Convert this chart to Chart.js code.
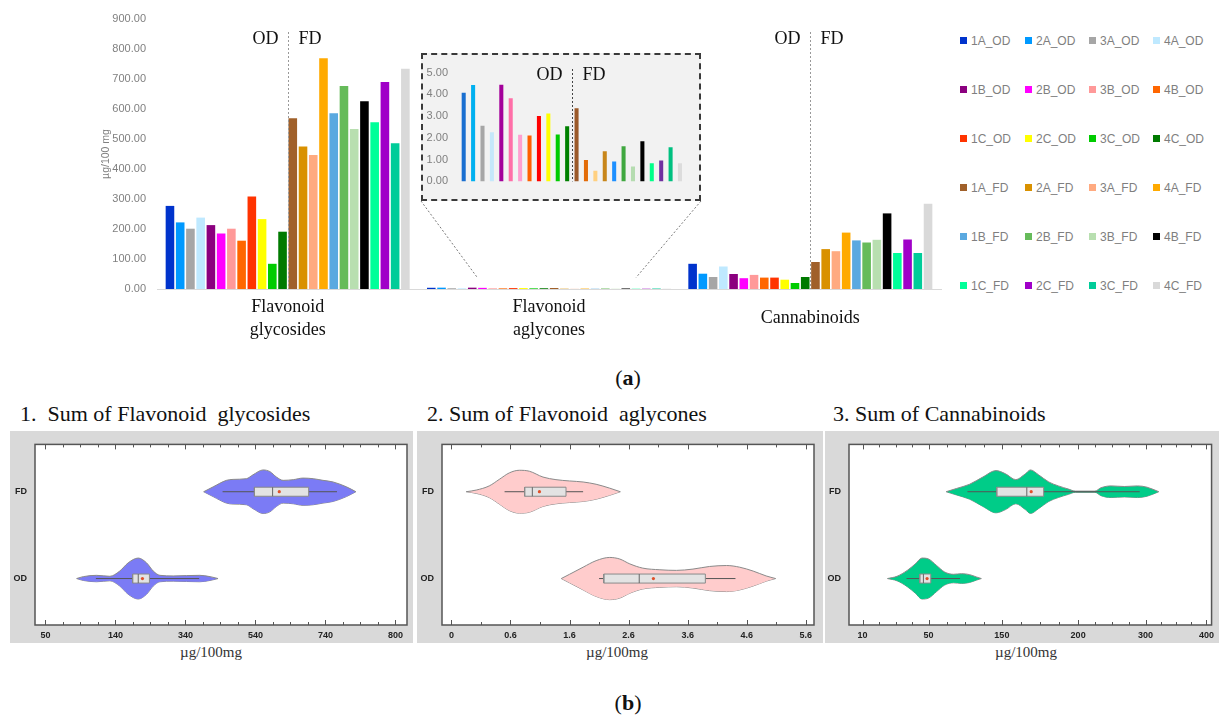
<!DOCTYPE html>
<html lang="en">
<head>
<meta charset="UTF-8" />
<title>Flavonoids and cannabinoids, OD vs FD</title>
<style>
  body { margin: 0; width: 1219px; height: 715px; position: relative; overflow: hidden; background: #fff; font-family: "Liberation Serif", serif; }
  .abs { position: absolute; }
  #mainChart { left: 100px; top: 0; }
  #insetBox { left: 421px; top: 53px; width: 276px; height: 144px; border: 2px dashed #3a3a3a; background: #f2f2f2; }
  #legend { left: 957px; top: 16px; display: grid; grid-template-columns: 65px 64px 64px 64px; grid-auto-rows: 49px; }
  #legend div { display: flex; align-items: center; font: 12px "Liberation Sans", sans-serif; color: #7f7f7f; }
  #legend span { display: inline-block; width: 7px; height: 7px; margin: 0 4px 0 3px; }
  .tag { width: 60px; text-align: center; font-size: 22px; line-height: 26px; color: #111; }
  .ptitle { font-size: 22px; line-height: 22px; white-space: pre; color: #111; }
  .panel { background: #d9d9d9; }
  .unit { width: 120px; text-align: center; font-size: 15px; line-height: 18px; color: #333; }
</style>
</head>
<body>
  <canvas id="mainChart" class="abs" width="850" height="345"></canvas>
  <div id="insetBox" class="abs"><canvas id="insetChart" width="276" height="144"></canvas></div>
  <div id="legend" class="abs"></div>
  <div class="abs tag" style="left:598px; top:365px;">(<b>a</b>)</div>

  <div class="abs ptitle" style="left:20px; top:403px;">1.  Sum of Flavonoid  glycosides</div>
  <div class="abs ptitle" style="left:427px; top:403px;">2. Sum of Flavonoid  aglycones</div>
  <div class="abs ptitle" style="left:833px; top:403px;">3. Sum of Cannabinoids</div>
  <canvas id="violin1" class="abs panel" style="left:10px; top:431px;" width="403" height="212"></canvas>
  <canvas id="violin2" class="abs panel" style="left:417px; top:431px;" width="406" height="212"></canvas>
  <canvas id="violin3" class="abs panel" style="left:825px; top:431px;" width="394" height="212"></canvas>
  <div class="abs unit" style="left:151px; top:643px;">µg/100mg</div>
  <div class="abs unit" style="left:557px; top:643px;">µg/100mg</div>
  <div class="abs unit" style="left:966px; top:643px;">µg/100mg</div>
  <div class="abs tag" style="left:598px; top:690px;">(<b>b</b>)</div>

  <script src="https://cdn.jsdelivr.net/npm/chart.js@4.4.0/dist/chart.umd.min.js"></script>
  <script>
    // ---- bar chart data (µg/100 mg) ----
    const categories = [["Flavonoid", "glycosides"], ["Flavonoid", "aglycones"], "Cannabinoids"];
    const samples = ["1A_OD", "2A_OD", "3A_OD", "4A_OD", "1B_OD", "2B_OD", "3B_OD", "4B_OD",
                     "1C_OD", "2C_OD", "3C_OD", "4C_OD", "1A_FD", "2A_FD", "3A_FD", "4A_FD",
                     "1B_FD", "2B_FD", "3B_FD", "4B_FD", "1C_FD", "2C_FD", "3C_FD", "4C_FD"];
    const glycosides = [277, 222, 201, 238, 213, 185, 201, 161, 308, 233, 84, 191,
                        569, 475, 447, 769, 586, 677, 533, 626, 556, 690, 486, 734];
    const aglycones = [4.07, 4.43, 2.56, 2.26, 4.44, 3.82, 2.14, 2.11, 3.00, 3.12, 2.16, 2.54,
                       3.36, 0.98, 0.49, 1.38, 0.91, 1.62, 0.69, 1.84, 0.83, 0.96, 1.57, 0.83];
    const cannabinoids = [84, 51, 40, 75, 50, 36, 47, 38, 38, 31, 20, 40,
                          90, 133, 126, 188, 162, 155, 164, 252, 120, 165, 120, 284];

    const barColors = ["#0033cc", "#0099ff", "#a6a6a6", "#bfe9ff", "#8b007f", "#ff00ff", "#ff9999", "#ff6600",
                       "#ff3300", "#ffff00", "#00cc00", "#007a00", "#a0602a", "#d99100", "#ffaa80", "#ffaa00",
                       "#5aa9e0", "#66bb5a", "#b8dfb0", "#000000", "#00ff99", "#a000c8", "#00cc99", "#d9d9d9"];
    const insetColors = ["#1a6fd0", "#00b0f0", "#a6a6a6", "#c5e8fa", "#a3009a", "#ff6fa8", "#ff9fd0", "#ff6000",
                         "#ff0000", "#ffff00", "#00cc00", "#008000", "#9c5a2a", "#e36c09", "#ffd080", "#c8861a",
                         "#1e90ff", "#40a840", "#b5dcb0", "#000000", "#00ff88", "#7030a0", "#00c080", "#dcdcdc"];

    // ---- violin data: outline x, half width (y units), box [lowWhisker, q1, median, q3, highWhisker, mean] ----
    const groupNames = ["OD", "FD"];
    const glyFD_x = [392, 419, 457, 476, 514, 533, 562, 581, 600, 619, 648, 676, 705, 733, 762, 800, 827];
    const glyFD_w = [0, .056, .131, .142, .15, .195, .251, .232, .169, .131, .139, .157, .15, .131, .112, .056, 0];
    const glyOD_x = [29, 48, 86, 124, 152, 176, 205, 229, 248, 267, 305, 343, 381, 410, 433];
    const glyOD_w = [0, .022, .037, .026, .086, .18, .236, .18, .086, .037, .03, .034, .037, .022, 0];
    const glyFD_box = [446, 537, 589, 692, 773, 608];
    const glyOD_box = [84, 189, 205, 237, 379, 217];
    const glyTickPos = [-60, 140, 340, 540, 740, 940];
    const glyTickLabels = ["50", "140", "340", "540", "740", "800"];

    const agFD_x = [-0.15, 0.02, 0.24, 0.41, 0.58, 0.75, 0.92, 1.15, 1.37, 1.6, 1.83, 2.05, 2.28, 2.46];
    const agFD_w = [0, .019, .067, .142, .217, .247, .236, .169, .139, .124, .112, .086, .041, 0];
    const agOD_x = [1.46, 1.6, 1.83, 2.05, 2.28, 2.45, 2.62, 2.84, 3.13, 3.41, 3.69, 3.97, 4.26, 4.48, 4.71, 4.93, 5.09];
    const agOD_w = [0, .049, .131, .206, .243, .225, .169, .12, .101, .094, .109, .139, .15, .131, .086, .03, 0];
    const agFD_box = [0.50, 0.84, 0.97, 1.54, 1.83, 1.09];
    const agOD_box = [2.10, 2.18, 2.78, 3.90, 4.41, 3.02];
    const agTickPos = [-0.4, 0.6, 1.6, 2.6, 3.6, 4.6, 5.6];
    const agTickLabels = ["0", "0.6", "1.6", "2.6", "3.6", "4.6", "5.6"];

    const canFD_x = [74, 88, 106, 124, 142, 155, 169, 182, 189, 200, 214, 227, 241, 250, 277, 285, 299, 317, 335, 348, 364];
    const canFD_w = [0, .037, .086, .169, .243, .206, .139, .206, .251, .195, .112, .067, .03, .007, .007, .045, .067, .06, .067, .052, 0];
    const canOD_x = [-6, 7, 21, 32, 41, 50, 61, 72, 84, 95, 106, 115, 122];
    const canOD_w = [0, .026, .094, .169, .236, .225, .15, .075, .049, .056, .045, .019, 0];
    const canFD_box = [103, 143, 184, 207, 338, 190];
    const canOD_box = [20, 38, 43, 53, 93, 48];
    const canTickPos = [-40, 50, 150, 254, 346, 429];
    const canTickLabels = ["10", "50", "150", "200", "300", "400"];

    // legend
    const legend = document.getElementById("legend");
    samples.forEach((s, i) => {
      const d = document.createElement("div");
      d.innerHTML = '<span style="background:' + barColors[i] + '"></span>' + s;
      legend.appendChild(d);
    });

    // OD | FD divider between dataset 11 and 12
    const odfdPlugin = {
      id: "odfd",
      afterDatasetsDraw(chart, args, opts) {
        const { ctx, chartArea } = chart;
        const m1 = chart.getDatasetMeta(11), m2 = chart.getDatasetMeta(12);
        ctx.save();
        opts.categories.forEach(ci => {
          const b1 = m1.data[ci], b2 = m2.data[ci];
          const x = Math.round((b1.x + b1.width / 2 + b2.x - b2.width / 2) / 2) + 0.5;
          ctx.strokeStyle = opts.lineColor;
          ctx.lineWidth = 1;
          ctx.setLineDash([2, 2]);
          ctx.beginPath();
          ctx.moveTo(x, opts.lineTop);
          ctx.lineTo(x, chartArea.bottom);
          ctx.stroke();
          ctx.setLineDash([]);
          ctx.fillStyle = "#111";
          ctx.font = "18px 'Liberation Serif'";
          ctx.textBaseline = "middle";
          ctx.textAlign = "right";
          ctx.fillText("OD", x - opts.gap, opts.textY);
          ctx.textAlign = "left";
          ctx.fillText("FD", x + opts.gap, opts.textY);
        });
        ctx.restore();
      }
    };

    // dotted connectors from the zoom box down to the aglycone bars
    const connectorPlugin = {
      id: "connector",
      afterDraw(chart) {
        const { ctx, scales } = chart;
        const box = document.getElementById("insetBox");
        const cv = chart.canvas;
        const bl = box.offsetLeft - cv.offsetLeft, br = bl + box.offsetWidth;
        const bb = box.offsetTop + box.offsetHeight - cv.offsetTop;
        const a = chart.getDatasetMeta(4).data[1], b = chart.getDatasetMeta(5).data[1];
        const c = chart.getDatasetMeta(20).data[1];
        const yEnd = scales.y.getPixelForValue(38);
        ctx.save();
        ctx.strokeStyle = "#7a7a7a";
        ctx.lineWidth = 1;
        ctx.setLineDash([2, 2]);
        ctx.beginPath();
        ctx.moveTo(bl, bb);
        ctx.lineTo((a.x + b.x) / 2, yEnd);
        ctx.moveTo(br, bb);
        ctx.lineTo(c.x, yEnd);
        ctx.stroke();
        ctx.restore();
      }
    };

    new Chart("mainChart", {
      type: "bar",
      data: {
        labels: categories,
        datasets: samples.map((s, i) => ({
          label: s,
          data: [glycosides[i], aglycones[i], cannabinoids[i]],
          backgroundColor: barColors[i]
        }))
      },
      options: {
        responsive: false,
        animation: false,
        layout: { padding: { top: 19, right: 9, left: 0, bottom: 0 } },
        datasets: { bar: { categoryPercentage: 0.94, barPercentage: 0.84 } },
        plugins: {
          legend: { display: false },
          tooltip: { enabled: false },
          odfd: { categories: [0, 2], lineTop: 32, textY: 39, gap: 10, lineColor: "#999" }
        },
        scales: {
          x: {
            grid: { display: false, drawTicks: false },
            border: { color: "#d9d9d9" },
            afterFit: s => { s.height = 56; },
            ticks: { crossAlign: "center", padding: 18, color: "#111",
                     font: { family: "Liberation Serif", size: 18, lineHeight: 1.3 } }
          },
          y: {
            min: 0, max: 900,
            grid: { display: false, drawTicks: false },
            border: { display: false },
            afterFit: s => { s.width = 57; },
            ticks: { stepSize: 100, padding: 11, color: "#808080",
                     font: { family: "Liberation Sans", size: 11 },
                     callback: v => v.toFixed(2) },
            title: { display: true, text: "µg/100 mg", color: "#808080", padding: 0,
                     font: { family: "Liberation Sans", size: 10.5 } }
          }
        }
      },
      plugins: [odfdPlugin, connectorPlugin]
    });

    new Chart("insetChart", {
      type: "bar",
      data: {
        labels: ["Flavonoid aglycones"],
        datasets: samples.map((s, i) => ({ label: s, data: [aglycones[i]], backgroundColor: insetColors[i] }))
      },
      options: {
        responsive: false,
        animation: false,
        layout: { padding: { top: 13.3, right: 14.3, left: 0, bottom: 14.7 } },
        datasets: { bar: { categoryPercentage: 1, barPercentage: 0.43 } },
        plugins: {
          legend: { display: false },
          tooltip: { enabled: false },
          odfd: { categories: [0], lineTop: 14, textY: 20, gap: 10, lineColor: "#444" }
        },
        scales: {
          x: { display: false },
          y: {
            min: 0, max: 5,
            grid: { display: false, drawTicks: false },
            border: { display: false },
            afterFit: s => { s.width = 36; },
            ticks: { stepSize: 1, padding: 11, color: "#808080",
                     font: { family: "Liberation Sans", size: 11 },
                     callback: v => v.toFixed(2) }
          }
        }
      },
      plugins: [odfdPlugin]
    });

    // ---- violin panels ----
    function tickList(pos, nMinor) {
      const out = [];
      pos.forEach((p, i) => {
        out.push({ value: p, major: true });
        if (i < pos.length - 1) {
          for (let k = 1; k <= nMinor; k++) out.push({ value: p + (pos[i + 1] - p) * k / (nMinor + 1), major: false });
        }
      });
      return out;
    }

    function violinSets(xs, ws, c, box, fillColor) {
      const bh = 0.052;
      const [wlo, q1, med, q3, whi, mean] = box;
      return [
        { data: [{ x: mean, y: c }], showLine: false, pointRadius: 1.6, pointBackgroundColor: "#e0502a", pointBorderWidth: 0 },
        { data: [{ x: med, y: c - bh }, { x: med, y: c + bh }], borderColor: "#666", borderWidth: 1 },
        { data: [{ x: q1, y: c - bh }, { x: q3, y: c - bh }, { x: q3, y: c + bh }, { x: q1, y: c + bh }, { x: q1, y: c - bh }],
          borderColor: "#8a8a8a", borderWidth: 1, backgroundColor: "#e3e3e3", fill: "shape", tension: 0 },
        { data: [{ x: wlo, y: c }, { x: whi, y: c }], borderColor: "#555", borderWidth: 1 },
        { data: xs.map((x, i) => ({ x: x, y: c + ws[i] })), borderColor: "#8a8a8a", borderWidth: 1,
          backgroundColor: fillColor, fill: "+1", cubicInterpolationMode: "monotone" },
        { data: xs.map((x, i) => ({ x: x, y: c - ws[i] })), borderColor: "#8a8a8a", borderWidth: 1,
          fill: false, cubicInterpolationMode: "monotone" }
      ];
    }

    const framePlugin = {
      id: "frame",
      beforeDatasetsDraw(chart) {
        const { ctx, chartArea: a } = chart;
        ctx.save();
        ctx.fillStyle = "#fff";
        ctx.fillRect(a.left, a.top, a.right - a.left, a.bottom - a.top);
        ctx.restore();
      },
      afterDraw(chart) {
        const { ctx, chartArea: a, scales: { x } } = chart;
        ctx.save();
        ctx.strokeStyle = "#555";
        ctx.lineWidth = 1.5;
        ctx.strokeRect(a.left, a.top, a.right - a.left, a.bottom - a.top);
        ctx.lineWidth = 1;
        ctx.beginPath();
        x.ticks.forEach(t => {
          const px = Math.round(x.getPixelForValue(t.value)) + 0.5;
          const len = t.major ? 5 : 3;
          ctx.moveTo(px, a.bottom);
          ctx.lineTo(px, a.bottom - len);
          ctx.moveTo(px, a.top);
          ctx.lineTo(px, a.top + len);
        });
        ctx.stroke();
        ctx.restore();
      }
    };

    function violinChart(id, p) {
      new Chart(id, {
        type: "line",
        data: {
          datasets: violinSets(p.fdX, p.fdW, 1, p.fdBox, p.color).concat(violinSets(p.odX, p.odW, 0, p.odBox, p.color))
        },
        options: {
          responsive: false,
          animation: false,
          elements: { point: { radius: 0 } },
          layout: { padding: { top: 7, right: p.padRight, left: 0, bottom: 0 } },
          plugins: { legend: { display: false }, tooltip: { enabled: false } },
          scales: {
            x: {
              type: "linear", min: p.min, max: p.max,
              afterBuildTicks: s => { s.ticks = tickList(p.tickPos, p.minors); },
              afterFit: s => { s.height = 18; },
              grid: { display: false, drawTicks: false },
              border: { display: false },
              ticks: {
                autoSkip: false, maxRotation: 0, padding: 5, color: "#222",
                font: { family: "'Liberation Sans Narrow', 'Liberation Sans'", weight: "bold", size: 9 },
                callback: v => { const k = p.tickPos.indexOf(v); return k < 0 ? "" : p.tickLabels[k]; }
              }
            },
            y: {
              type: "linear", min: -0.535, max: 1.545,
              afterBuildTicks: s => { s.ticks = [{ value: 0 }, { value: 1 }]; },
              afterFit: s => { s.width = p.padLeft; },
              grid: { display: false, drawTicks: false },
              border: { display: false },
              ticks: { padding: 8, color: "#222",
                       font: { family: "Liberation Sans", weight: "bold", size: 9 },
                       callback: v => groupNames[v] }
            }
          }
        },
        plugins: [framePlugin]
      });
    }

    violinChart("violin1", {
      fdX: glyFD_x, fdW: glyFD_w, fdBox: glyFD_box, odX: glyOD_x, odW: glyOD_w, odBox: glyOD_box,
      color: "#7b7bf5", min: -90, max: 973, tickPos: glyTickPos, tickLabels: glyTickLabels, minors: 3,
      padLeft: 25, padRight: 6
    });
    violinChart("violin2", {
      fdX: agFD_x, fdW: agFD_w, fdBox: agFD_box, odX: agOD_x, odW: agOD_w, odBox: agOD_box,
      color: "#ffcccc", min: -0.56, max: 5.74, tickPos: agTickPos, tickLabels: agTickLabels, minors: 1,
      padLeft: 25, padRight: 9
    });
    violinChart("violin3", {
      fdX: canFD_x, fdW: canFD_w, fdBox: canFD_box, odX: canOD_x, odW: canOD_w, odBox: canOD_box,
      color: "#00cc88", min: -58.5, max: 436, tickPos: canTickPos, tickLabels: canTickLabels, minors: 3,
      padLeft: 24, padRight: 2
    });
  </script>
</body>
</html>
